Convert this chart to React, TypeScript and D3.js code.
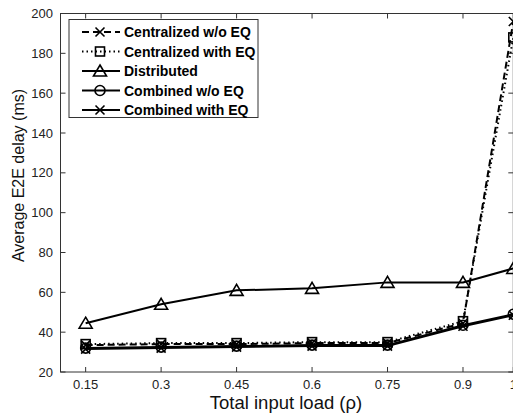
import React from 'react';
import * as d3 from 'd3';

const loads = [0.15, 0.3, 0.45, 0.6, 0.75, 0.9, 1];
const xTickLabels = ['0.15', '0.3', '0.45', '0.6', '0.75', '0.9', '1'];
const yTicks = [20, 40, 60, 80, 100, 120, 140, 160, 180, 200];

const centralizedNoEq = [33.5, 34, 34, 34.5, 34.5, 44.5, 196];
const centralizedEq = [34, 34.5, 34.5, 35, 35, 45.5, 188];
const distributed = [44.5, 54, 61, 62, 65, 65, 72];
const combinedNoEq = [32, 32.5, 33, 33.5, 33.5, 43.5, 49];
const combinedEq = [31.5, 32, 32.5, 33, 33, 43, 48.5];

const seriesNames = [
  'Centralized w/o EQ',
  'Centralized with EQ',
  'Distributed',
  'Combined w/o EQ',
  'Combined with EQ',
];

const FONT = '"Liberation Sans", Arial, sans-serif';

const left = 60.5, right = 513.3, top = 13.5, bottom = 372;

function Marker({ kind, x, y }: { kind: string; x: number; y: number }) {
  const s = { stroke: '#000', strokeWidth: 1.6, fill: 'none' };
  if (kind === 'x') {
    const r = 4.5;
    return (
      <path {...s} d={`M${x - r},${y - r}L${x + r},${y + r}M${x - r},${y + r}L${x + r},${y - r}`} />
    );
  }
  if (kind === 'square') {
    return <rect {...s} x={x - 4.5} y={y - 4.5} width={9} height={9} />;
  }
  if (kind === 'triangle') {
    return <path {...s} d={`M${x},${y - 6}L${x + 6.5},${y + 5}L${x - 6.5},${y + 5}Z`} />;
  }
  if (kind === 'circle') {
    return <circle {...s} cx={x} cy={y} r={5} />;
  }
  return null;
}

export default function App() {
  const x = d3.scaleLinear().domain([0.1, 1]).range([left, right]);
  const y = d3.scaleLinear().domain([20, 200]).range([bottom, top]);

  const series = [
    { values: centralizedNoEq, dash: '7,4', marker: 'x' },
    { values: centralizedEq, dash: '1.5,3', marker: 'square' },
    { values: distributed, dash: undefined, marker: 'triangle' },
    { values: combinedNoEq, dash: undefined, marker: 'circle' },
    { values: combinedEq, dash: undefined, marker: 'x' },
  ];

  const line = d3
    .line<number>()
    .x((_, i) => x(loads[i]))
    .y((d) => y(d));

  const tickLen = 5;

  return (
    <svg
      width={513}
      height={419}
      style={{ position: 'absolute', left: 0, top: 0, background: '#fff' }}
      fontFamily={FONT}
    >
      <rect x={0} y={0} width={513} height={419} fill="#fff" />
      {/* axes box */}
      <rect x={left} y={top} width={right - left} height={bottom - top} fill="none" stroke="#333" strokeWidth={1} />
      {loads.map((v, i) => (
        <g key={'xt' + i}>
          <line x1={x(v)} x2={x(v)} y1={bottom} y2={bottom - tickLen} stroke="#333" />
          <line x1={x(v)} x2={x(v)} y1={top} y2={top + tickLen} stroke="#333" />
          <text x={x(v)} y={389} textAnchor="middle" fontSize={13} fill="#222">
            {xTickLabels[i]}
          </text>
        </g>
      ))}
      {yTicks.map((v) => (
        <g key={'yt' + v}>
          <line x1={left} x2={left + tickLen} y1={y(v)} y2={y(v)} stroke="#333" />
          <line x1={right} x2={right - tickLen} y1={y(v)} y2={y(v)} stroke="#333" />
          <text x={53} y={y(v) + 4.5} textAnchor="end" fontSize={13} fill="#222">
            {v}
          </text>
        </g>
      ))}
      <text x={286} y={409} textAnchor="middle" fontSize={18.5} fill="#111">
        Total input load (ρ)
      </text>
      <text
        transform={`translate(24,175.5) rotate(-90)`}
        textAnchor="middle"
        fontSize={16}
        fill="#111"
      >
        Average E2E delay (ms)
      </text>

      {/* series */}
      {series.map((s, si) => (
        <g key={'s' + si}>
          <path d={line(s.values) || ''} fill="none" stroke="#000" strokeWidth={2} strokeDasharray={s.dash} />
          {s.values.map((v, i) => (
            <Marker key={i} kind={s.marker} x={x(loads[i])} y={y(v)} />
          ))}
        </g>
      ))}

      {/* legend */}
      <g>
        <rect x={69} y={19.5} width={189} height={98} fill="#fff" stroke="#333" strokeWidth={1} />
        {series.map((s, i) => {
          const ly = 32 + i * 19.5;
          return (
            <g key={'lg' + i}>
              <line x1={82} x2={120} y1={ly} y2={ly} stroke="#000" strokeWidth={2} strokeDasharray={s.dash} />
              <Marker kind={s.marker} x={100} y={ly} />
              <text x={124} y={ly + 5} fontSize={14} fontWeight="bold" fill="#000">
                {seriesNames[i]}
              </text>
            </g>
          );
        })}
      </g>
    </svg>
  );
}
